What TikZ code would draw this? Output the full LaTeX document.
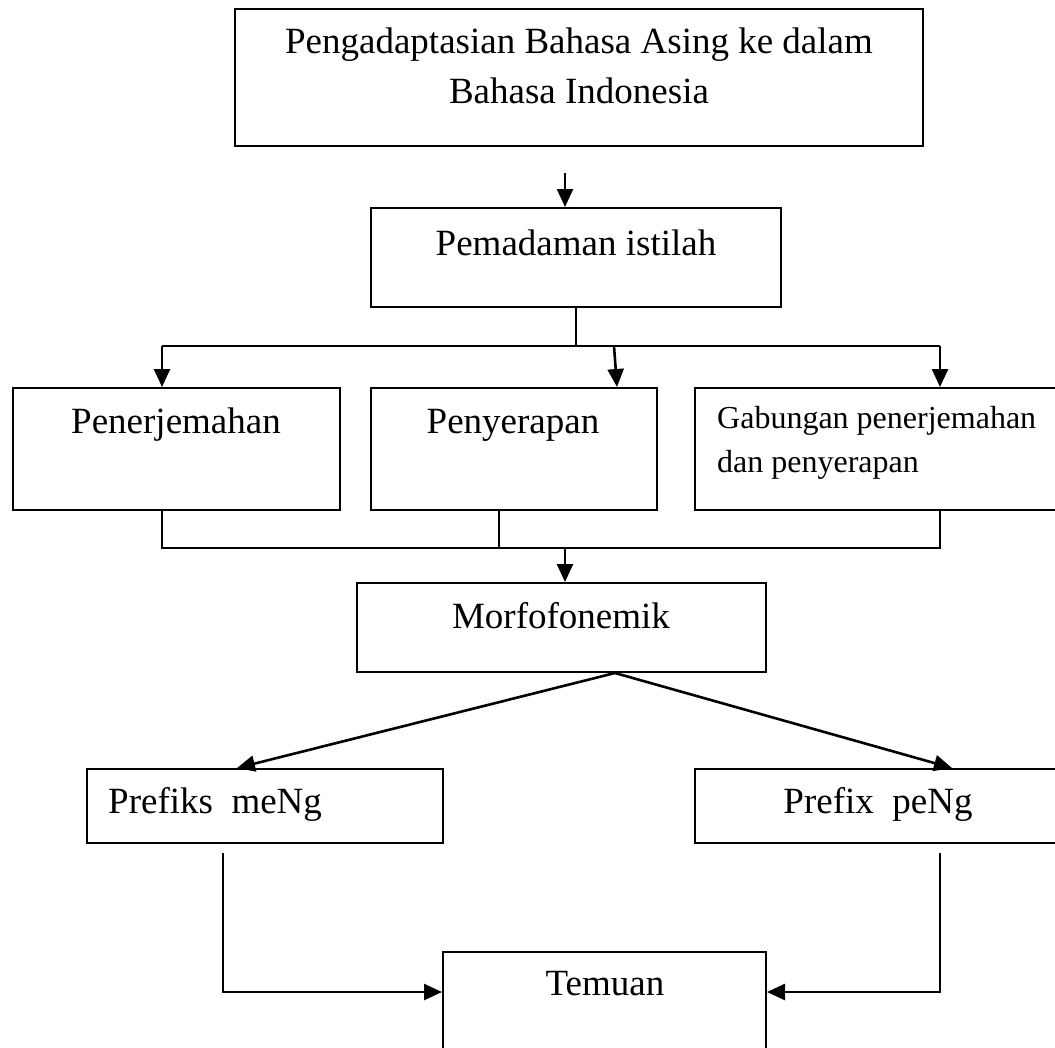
\documentclass[tikz,border=0pt]{standalone}
\usepackage{fontspec}
\setmainfont{Liberation Serif}
\usetikzlibrary{arrows.meta}
\newcommand{\besar}{\fontsize{37}{50}\selectfont}
\newcommand{\kecil}{\fontsize{32}{44}\selectfont}

\begin{document}
\begin{tikzpicture}[x=1pt,y=-1pt,
  kotak/.style={draw,line width=2pt,inner sep=0pt},
  teks/.style={anchor=base,inner sep=0pt,font=\besar},
  garis/.style={line width=1.6pt},
  panah/.style={line width=2.6pt,-{Triangle[length=18pt,width=16pt]}}]
  \useasboundingbox (0,0) rectangle (1055,1047);
  \clip (0,0) rectangle (1055,1047);
  \node[kotak,minimum width=688pt,minimum height=137pt] (adapt) at (579,77.5) {};
  \node[kotak,minimum width=410pt,minimum height=99pt] (pem) at (576,257.5) {};
  \node[kotak,minimum width=327pt,minimum height=122pt] (pen) at (176.5,449) {};
  \node[kotak,minimum width=286pt,minimum height=122pt] (peny) at (514,449) {};
  \node[kotak,minimum width=367pt,minimum height=122pt] (gab) at (878.5,449) {};
  \node[kotak,minimum width=409pt,minimum height=89pt] (mor) at (561.5,627.5) {};
  \node[kotak,minimum width=356pt,minimum height=74pt] (meng) at (265,806) {};
  \node[kotak,minimum width=367pt,minimum height=74pt] (peng) at (878.5,806) {};
  \node[kotak,minimum width=323pt,minimum height=108pt] (tem) at (604.5,1006) {};

  \node[teks] (adaptA) at (579,53) {Pengadaptasian Bahasa Asing ke dalam};
  \node[teks] (adaptB) at (579,103) {Bahasa Indonesia};
  \node[teks] (pemT) at (576,255) {Pemadaman istilah};
  \node[teks] (penT) at (176,433) {Penerjemahan};
  \node[teks] (penyT) at (513,433) {Penyerapan};
  \node[teks,anchor=base west,font=\kecil] (gabA) at (717,428) {Gabungan penerjemahan};
  \node[teks,anchor=base west,font=\kecil] (gabB) at (717,472) {dan penyerapan};
  \node[teks] (morT) at (561,628) {Morfofonemik};
  \node[teks,anchor=base west] (mengT) at (108,813) {Prefiks~~meNg};
  \node[teks] (pengT) at (878,813) {Prefix~~peNg};
  \node[teks] (temT) at (605,995) {Temuan};

  \draw[panah,shorten <=26pt] ([xshift=-11pt]pem.north |- adapt.south) -- ([xshift=-11pt]pem.north);
  \draw[garis] (pem.south) -- ++(0,38) coordinate (bagi);
  \draw[garis] ([xshift=-14.5pt]pen.north |- bagi) -- ([xshift=61.5pt]gab.north |- bagi);
  \draw[panah] ([xshift=-14.5pt]pen.north |- bagi) -- ([xshift=-14.5pt]pen.north);
  \draw[panah] ([xshift=100pt]peny.north |- bagi) -- ([xshift=103pt]peny.north);
  \draw[panah] ([xshift=61.5pt]gab.north |- bagi) -- ([xshift=61.5pt]gab.north);

  \draw[garis] ([xshift=-14.5pt]pen.south) -- ++(0,37) coordinate (gabung)
    -- ([xshift=61.5pt]gab.south |- gabung) -- ([xshift=61.5pt]gab.south);
  \draw[garis] ([xshift=-15pt]peny.south) -- ([xshift=-15pt]peny.south |- gabung);
  \draw[panah] ([xshift=3.5pt]mor.north |- gabung) -- ([xshift=3.5pt]mor.north);

  \draw[panah] ([xshift=53.5pt]mor.south) -- ([xshift=-28pt]meng.north);
  \draw[panah] ([xshift=53.5pt]mor.south) -- ([xshift=73.5pt]peng.north);

  \draw[panah,shorten <=9pt] ([xshift=-42pt]meng.south) |- ([yshift=-41pt]tem.north west);
  \draw[panah,shorten <=9pt] ([xshift=61.5pt]peng.south) |- ([yshift=-41pt]tem.north east);
\end{tikzpicture}
\end{document}
